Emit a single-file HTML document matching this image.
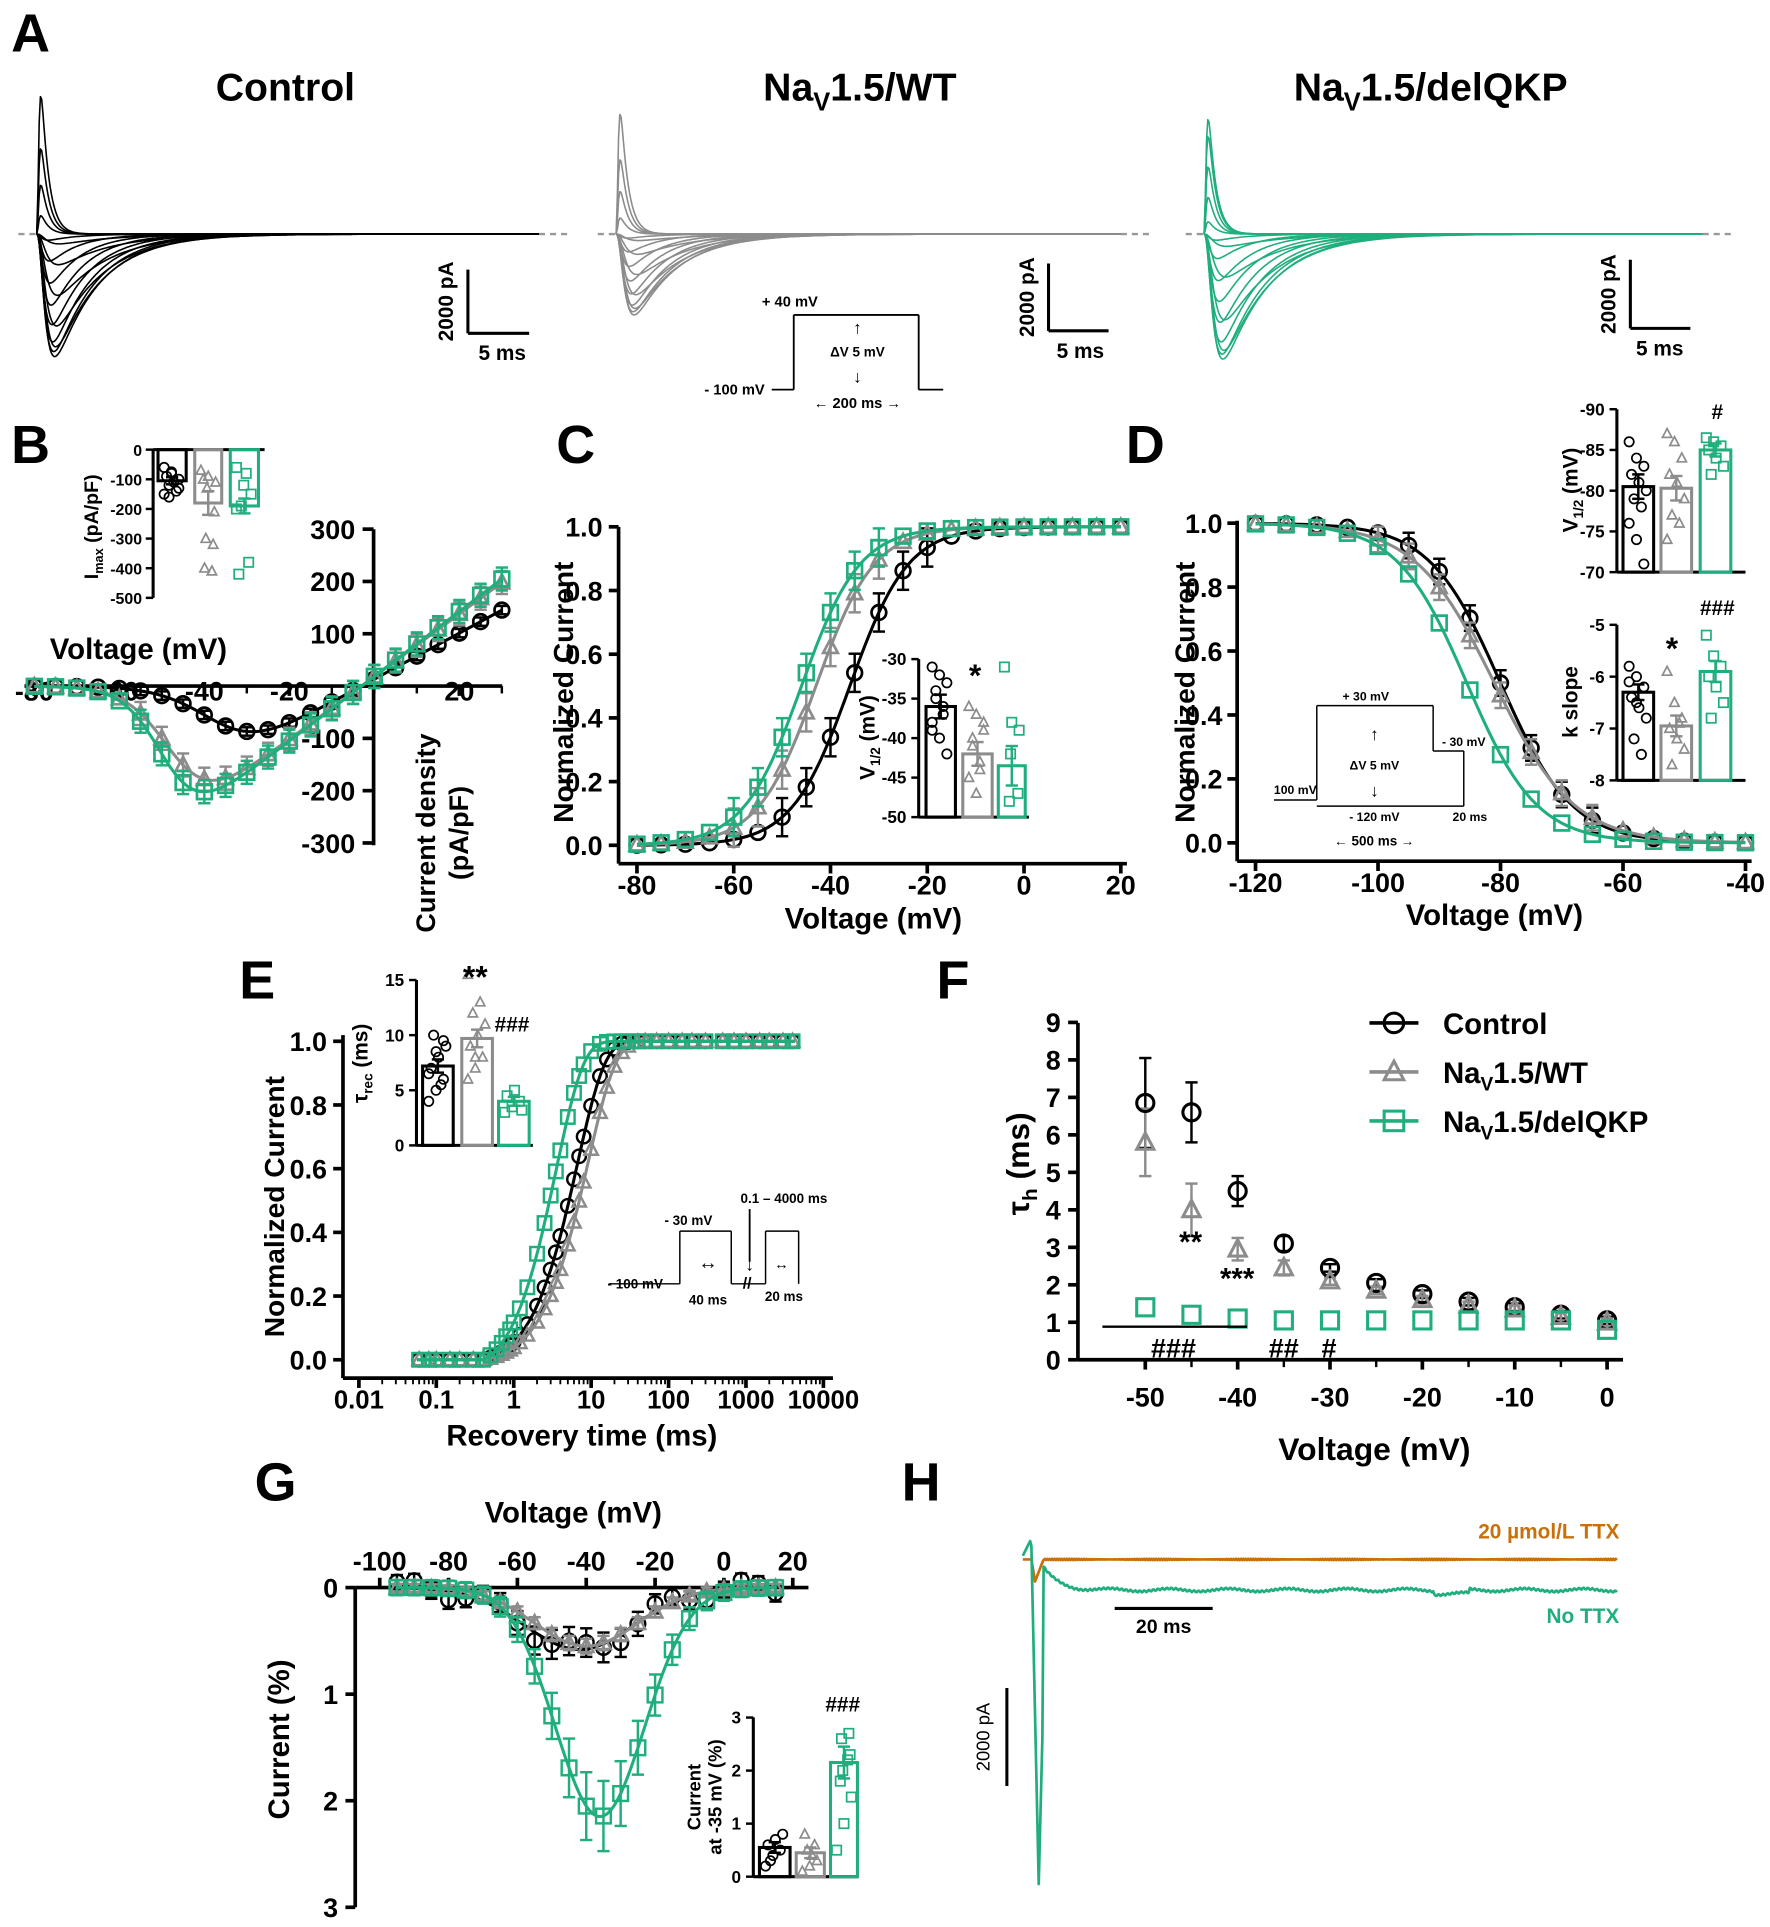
<!DOCTYPE html>
<html><head><meta charset="utf-8"><style>
html,body{margin:0;padding:0;background:#fff;}
svg{display:block;font-family:"Liberation Sans",Arial,sans-serif;}
</style></head><body>
<svg id="s" width="1770" height="1927" viewBox="0 0 1445 1573" xmlns="http://www.w3.org/2000/svg"></svg>
<script>
const S=document.getElementById('s');const NS='http://www.w3.org/2000/svg';
const K='#000',G='#8c8c8c',N='#1fae7c',B='#c8700a';
function el(t,a,txt){const e=document.createElementNS(NS,t);for(const k in a)e.setAttribute(k,a[k]);if(txt!==undefined)e.textContent=txt;S.appendChild(e);return e;}
function L(x1,y1,x2,y2,c,w,da){const a={x1,y1,x2,y2,stroke:c||K,'stroke-width':w||2};if(da)a['stroke-dasharray']=da;return el('line',a);}
function T(x,y,s,sz,anc,wt,rot,col){const a={x,y,'font-size':sz,'text-anchor':anc||'middle','font-weight':wt||'bold',fill:col||K};if(rot)a.transform=`rotate(${rot} ${x} ${y})`;return el('text',a,s);}
function P(pts,c,w){let d='';pts.forEach((p,i)=>d+=(i?'L':'M')+p[0].toFixed(1)+' '+p[1].toFixed(1));return el('path',{d,fill:'none',stroke:c,'stroke-width':w||2,'stroke-linejoin':'round'});}
function M(x,y,type,c,r,w){r=r||6;w=w||2;if(type=='o')return el('circle',{cx:x,cy:y,r,fill:'none',stroke:c,'stroke-width':w});
 if(type=='s')return el('rect',{x:x-r,y:y-r,width:2*r,height:2*r,fill:'none',stroke:c,'stroke-width':w});
 return el('path',{d:`M${x} ${y-r*1.1}L${x+r} ${y+r*0.8}L${x-r} ${y+r*0.8}Z`,fill:'none',stroke:c,'stroke-width':w});}
function EB(x,y1,y2,c,w){L(x,y1,x,y2,c,w||2);L(x-5,y1,x+5,y1,c,w||2);L(x-5,y2,x+5,y2,c,w||2);}
function sub(x,y,sz,base,s,rest,anc,rot){const a={x,y,'font-size':sz,'text-anchor':anc||'middle','font-weight':'bold'};if(rot)a.transform=`rotate(${rot} ${x} ${y})`;const t=el('text',a);t.innerHTML=`${base}<tspan font-size="${sz*0.65}" dy="${sz*0.25}">${s}</tspan><tspan dy="${-sz*0.25}">${rest}</tspan>`;return t;}
function bars(y0,y1,vTop,vBot,data){const yi=v=>y0+(v-vTop)/(vBot-vTop)*(y1-y0);
 data.forEach(([a,b,v,c,m,pts,e])=>{const yb=yi(v),yz=y0;el('rect',{x:a,y:Math.min(yb,yz),width:b-a,height:Math.abs(yb-yz),fill:'none',stroke:c,'stroke-width':2.5});
 if(e)EB((a+b)/2,yi(v-e),yi(v+e),c);pts.forEach((q,i)=>M(a+5+(i*6)%(b-a-9),yi(q),m,c,3.8,1.4));});return yi;}
[['A',25,42],['B',25,378],['C',470,378],['D',935,378],['E',210,815],['F',778,815],['G',225,1225],['H',752,1225]].forEach(a=>T(a[1],a[2],a[0],44,'middle','bold'));
// ---------- Panel A
sub(233,82,32,'Control','','');
sub(702,82,32,'Na','V','1.5/WT');
sub(1168,82,32,'Na','V','1.5/delQKP');
function fam(x0,x1,base,c,amps){L(x0-15,base,x0,base,'#999',2,'5,4');L(x1,base,x1+25,base,'#999',2,'5,4');
 amps.forEach((a,k)=>{const tr=a>0?1.2:1.8+(1-k/amps.length)*4;const td=a>0?6:14+(1-k/amps.length)*30;let mx=0;const f=t=>Math.pow(1-Math.exp(-t/tr),3)*Math.exp(-t/td);for(let t=0;t<300;t+=0.5)mx=Math.max(mx,f(t));
 const pts=[];for(let t=0;t<=x1-x0;t+=1)pts.push([x0+t,base-a*f(t)/mx]);P(pts,c,1.3);});}
const ampsC=[-8,-25,-50,-75,-92,-100,-96,-88,-74,-58,-40,-22,-5,15,40,70,113];
fam(30,440,191,K,ampsC);
fam(503,915,191,G,ampsC.map(a=>a<0?a*0.66:a*0.87));
fam(983,1390,191,N,[-10,-35,-70,-95,-102,-98,-88,-72,-55,-38,-20,-5,10,30,55,80,94]);
function sbar(x,y1,y2,x2,lx){L(x,y1,x,y2,K,2.5);L(x,y2,x2,y2,K,2.5);T(x-12,(y1+y2)/2,'2000 pA',17,'middle','bold',-90);T(lx,y2+22,'5 ms',17);}
sbar(382,220,272,432,410);sbar(856,215,270,905,882);sbar(1331,212,268,1380,1355);
L(630,318,648,318,K,1.5);L(648,318,648,257,K,1.5);L(648,257,750,257,K,1.5);L(750,257,750,318,K,1.5);L(750,318,770,318,K,1.5);
T(622,250,'+ 40 mV',12,'start');T(575,322,'- 100 mV',12,'start');T(700,291,'ΔV 5 mV',11);
T(700,272,'↑',14);T(700,312,'↓',14);T(700,333,'←  200 ms  →',12);
// ---------- Panel B
{const xv=v=>28+(v+80)*3.47,yv=i=>560-i*0.427;
L(20,560,410,560,K,3);L(305,432,305,690,K,3);
[-80,-60,-40,-20,20].forEach(v=>{L(xv(v),560,xv(v),568,K,3);T(xv(v),572,String(v),22,'middle','bold');});
[-60,-50,-40,-30,-20,-10,0,10,20,30].forEach(v=>L(xv(v),560,xv(v),566,K,2));
[300,200,100,0,-100,-200,-300].forEach(i=>{L(296,yv(i),305,yv(i),K,3);if(i)T(290,yv(i)+8,String(i),22,'end');});
T(290,yv(-100)+8,'-100',22,'end');
T(355,680,'Current density',22,'middle','bold',-90);T(382,680,'(pA/pF)',22,'middle','bold',-90);
T(113,538,'Voltage (mV)',24);
const act=(v,h,k)=>1/(1+Math.exp((h-v)/k));
[[K,'o',4.4,-36,6],[G,'t',6.0,-47,5],[N,'s',6.2,-49,4.5]].forEach(([c,m,g,h,k])=>{const pts=[];for(let v=-80;v<=30;v+=1)pts.push([xv(v),yv(g*act(v,h,k)*(v+3))]);P(pts,c,2.5);
 for(let v=-80;v<=30;v+=5){const I=g*act(v,h,k)*(v+3);const e=c==K?8:22;if(v>-60)EB(xv(v),yv(I-e),yv(I+e),c);M(xv(v),yv(I),m,c,6,2.2);}});
const y0=367,y1=488;const yi=i=>y0-i*(y1-y0)/500;L(125,y0,125,y1,K,2.5);L(125,y0,216,y0,K,2.5);
[0,-100,-200,-300,-400,-500].forEach(i=>{L(119,yi(i),125,yi(i),K,2);T(116,yi(i)+5,String(i),13,'end');});
sub(80,430,16,'I','max',' (pA/pF)','middle',-90);
bars(y0,y1,0,-500,[[129,152,-105,K,'o',[-60,-80,-100,-120,-140,-90,-110,-150,-75,-130,-160],12],[159,181,-180,G,'t',[-70,-90,-110,-130,-210,-300,-320,-400,-410,-100],40],[188,211,-190,N,'s',[-60,-120,-150,-190,-380,-420,-80,-200],25]]);}
// ---------- Panel C
{const xv=v=>520+(v+80)*3.95,yv=n=>690-n*260;
L(505,430,505,705,K,3);L(505,705,920,705,K,3);
[0,0.2,0.4,0.6,0.8,1.0].forEach(n=>{L(497,yv(n),505,yv(n),K,3);T(492,yv(n)+8,n.toFixed(1),22,'end');});
[-80,-60,-40,-20,0,20].forEach(v=>{L(xv(v),705,xv(v),713,K,3);T(xv(v),730,String(v),22);});
T(468,565,'Normalized Current',23,'middle','bold',-90);T(713,758,'Voltage (mV)',24);
[[K,'o',-36,6],[G,'t',-43,6],[N,'s',-46,6]].forEach(([c,m,h,k])=>{const pts=[];for(let v=-80;v<=20;v+=1)pts.push([xv(v),yv(1/(1+Math.exp((h-v)/k)))]);P(pts,c,2.5);
 for(let v=-80;v<=20;v+=5){const n=1/(1+Math.exp((h-v)/k));if(n>0.05&&n<0.95)EB(xv(v),yv(n-0.06),yv(n+0.06),c);M(xv(v),yv(n),m,c,6,2.2);}});
L(750,538,750,667,K,2.5);L(750,667,840,667,K,2.5);
const yi=v=>538+(-30-v)*6.45;
[-30,-35,-40,-45,-50].forEach(v=>{L(744,yi(v),750,yi(v),K,2);T(740,yi(v)+5,String(v),14,'end');});
sub(714,602,17,'V','1/2',' (mV)','middle',-90);
bars(667,538,-50,-30,[[756,780,-36,K,'o',[-31,-32,-33,-34,-36,-38,-40,-42,-35,-37,-39],1.5],[786,810,-42,G,'t',[-36,-37,-39,-41,-43,-45,-47,-38,-40,-44],1.5],[815,837,-43.5,N,'s',[-31,-38,-39,-42,-47,-48],2.5]]);
T(796,560,'*',26);}
// ---------- Panel D
{const xv=v=>1025+(v+120)*5,yv=n=>688-n*261;
L(1010,425,1010,703,K,3);L(1010,703,1430,703,K,3);
[0,0.2,0.4,0.6,0.8,1.0].forEach(n=>{L(1002,yv(n),1010,yv(n),K,3);T(998,yv(n)+8,n.toFixed(1),22,'end');});
[-120,-100,-80,-60,-40].forEach(v=>{L(xv(v),703,xv(v),711,K,3);T(xv(v),728,String(v),22);});
T(975,565,'Normalized Current',23,'middle','bold',-90);T(1220,755,'Voltage (mV)',24);
[[K,'o',-80,5.8],[G,'t',-81,6.5],[N,'s',-85.5,5.7]].forEach(([c,m,h,k])=>{const pts=[];for(let v=-120;v<=-40;v+=1)pts.push([xv(v),yv(1/(1+Math.exp((v-h)/k)))]);P(pts,c,2.5);
 for(let v=-120;v<=-40;v+=5){const n=1/(1+Math.exp((v-h)/k));if(n>0.05&&n<0.95&&c!=N)EB(xv(v),yv(n-0.04),yv(n+0.04),c);M(xv(v),yv(n),m,c,6,2.2);}});
L(1040,653,1075,653,K,1.2);L(1075,653,1075,576,K,1.2);L(1075,576,1170,576,K,1.2);L(1170,576,1170,613,K,1.2);L(1170,613,1195,613,K,1.2);L(1195,613,1195,658,K,1.2);L(1075,658,1195,658,K,1.2);
T(1115,572,'+ 30 mV',10);T(1040,648,'100 mV',10,'start');T(1122,604,'↑',14);T(1122,628,'ΔV 5 mV',10);T(1122,650,'↓',14);T(1195,609,'- 30 mV',10);T(1122,670,'- 120 mV',10);T(1200,670,'20 ms',10);T(1122,690,'←      500 ms      →',11);
L(1320,334,1320,467,K,2.5);L(1320,467,1425,467,K,2.5);
[-90,-85,-80,-75,-70].forEach(v=>{const y=334+(v+90)/20*133;L(1314,y,1320,y,K,2);T(1310,y+5,String(v),14,'end');});
sub(1288,400,17,'V','1/2',' (mV)','middle',-90);
bars(467,334,-70,-90,[[1325,1350,-80.5,K,'o',[-86,-84,-83,-82,-81,-80,-79,-78,-76,-74,-71],1.5],[1356,1381,-80.3,G,'t',[-87,-86,-84,-82,-81,-79,-77,-76,-74],1.5],[1388,1413,-85,N,'s',[-86.5,-86,-85.5,-85,-84,-83,-82],0.8]]);
T(1402,342,'#',17);
L(1320,510,1320,637,K,2.5);L(1320,637,1425,637,K,2.5);
[-5,-6,-7,-8].forEach(v=>{const y=510+(-5-v)/3*127;L(1314,y,1320,y,K,2);T(1310,y+5,String(v),14,'end');});
T(1288,573,'k slope',17,'middle','bold',-90);
bars(637,510,-8,-5,[[1325,1350,-6.3,K,'o',[-5.8,-6,-6.2,-6.4,-6.6,-6.8,-7.2,-7.5,-6.1,-6.5],0.15],[1356,1381,-6.95,G,'t',[-5.9,-6.5,-6.8,-7,-7.2,-7.4,-7.7,-6.9],0.2],[1388,1413,-5.9,N,'s',[-5.2,-5.6,-5.8,-6,-6.2,-6.5,-6.8],0.2]]);
T(1365,538,'*',26);T(1402,502,'###',17);}
// ---------- Panel E
{const xl=t=>293+(Math.log10(t)+2)*63.2,yv=n=>1110-n*260;
L(280,845,280,1125,K,3);L(280,1125,680,1125,K,3);
[0,0.2,0.4,0.6,0.8,1.0].forEach(n=>{L(272,yv(n),280,yv(n),K,3);T(267,yv(n)+8,n.toFixed(1),22,'end');});
['0.01','0.1','1','10','100','1000','10000'].forEach((s,i)=>{const x=293+i*63.2;L(x,1125,x,1133,K,3);T(x,1150,s,21);for(let j=2;j<10&&i<6;j++)L(x+Math.log10(j)*63.2,1125,x+Math.log10(j)*63.2,1130,K,1.5);});
T(232,985,'Normalized Current',23,'middle','bold',-90);T(475,1180,'Recovery time (ms)',24);
const ts=[0.06,0.08,0.1,0.15,0.2,0.3,0.4,0.5,0.6,0.7,0.8,0.9,1,1.2,1.5,2,2.5,3,3.5,4,5,6,7,8,10,13,16,20,25,30,40,50,70,100,150,200,300,500,700,1000,1500,2000,3000,4000];
[[K,'o',6.5],[G,'t',9],[N,'s',3.4]].forEach(([c,m,tau])=>{const f=t=>Math.max(0,1-Math.exp(-Math.pow(Math.max(t-0.4,0)/tau,1.2)));const pts=[];for(let l=-1.25;l<=3.65;l+=0.02){const t=Math.pow(10,l);pts.push([xl(t),yv(f(t))]);}P(pts,c,2.5);
 ts.forEach(t=>M(xl(t),yv(f(t)),m,c,5.5,2));});
L(340,800,340,935,K,2.5);L(340,935,435,935,K,2.5);
[0,5,10,15].forEach(v=>{const y=935-v*9;L(334,y,340,y,K,2);T(330,y+5,String(v),14,'end');});
sub(300,868,17,'τ','rec',' (ms)','middle',-90);
bars(935,800,0,15,[[345,370,7.2,K,'o',[4,5,6,7,8,9,10,5.5,6.5,8.5,9.5],0.6],[377,402,9.7,G,'t',[6,7,8,9,10,11,12,13,15.5,8],0.8],[407,432,4.0,N,'s',[3,3.5,4,4.5,5,3.2],0.4]]);
T(388,806,'**',26);T(418,842,'###',17);
L(497,1048,555,1048,K,1.2);L(555,1048,555,1005,K,1.2);L(555,1005,597,1005,K,1.2);L(597,1005,597,1048,K,1.2);L(597,1048,625,1048,K,1.2);L(625,1048,625,1005,K,1.2);L(625,1005,652,1005,K,1.2);L(652,1005,652,1048,K,1.2);
T(562,1000,'- 30 mV',11);T(640,982,'0.1 – 4000 ms',11);L(612,987,612,1030,K,1.5);T(612,1037,'↓',14);T(496,1052,'- 100 mV',11,'start');T(578,1036,'↔',16);T(638,1036,'↔',12);T(578,1065,'40 ms',11);T(640,1062,'20 ms',11);T(610,1052,'//',13);}
// ---------- Panel F
{const xv=v=>935+(v+50)*7.54,yv=n=>1110-n*30.6;
L(880,835,880,1110,K,3);L(880,1110,1325,1110,K,3);
for(let n=0;n<=9;n++){L(872,yv(n),880,yv(n),K,3);T(866,yv(n)+8,String(n),22,'end');}
[-50,-40,-30,-20,-10,0].forEach(v=>{L(xv(v),1110,xv(v),1118,K,3);T(xv(v),1148,String(v),22);});
[-45,-35,-25,-15,-5].forEach(v=>L(xv(v),1110,xv(v),1116,K,2));
sub(840,950,26,'τ','h',' (ms)','middle',-90);T(1122,1192,'Voltage (mV)',26);
const c=[6.85,6.6,4.5,3.1,2.45,2.05,1.75,1.55,1.4,1.2,1.05],w=[5.8,4.0,2.95,2.45,2.1,1.85,1.6,1.45,1.35,1.15,1.0],q=[1.4,1.2,1.1,1.05,1.05,1.05,1.05,1.05,1.05,1.05,0.8];
const ce=[1.2,0.8,0.4,0.2,0.1,0.1,0.1,0.1,0.1,0.1,0.1],we=[0.9,0.7,0.3,0.2,0.1,0.1,0.1,0.1,0.1,0.1,0.1];
for(let i=0;i<11;i++){const x=xv(-50+5*i);EB(x,yv(c[i]-ce[i]),yv(c[i]+ce[i]),K);EB(x,yv(w[i]-we[i]),yv(w[i]+we[i]),G);M(x,yv(c[i]),'o',K,7,2.5);M(x,yv(w[i]),'t',G,7,2.5);M(x,yv(q[i]),'s',N,7,2.5);}
T(972,1022,'**',24);T(1010,1052,'***',24);L(900,1083,1018,1083,K,2);T(958,1108,'###',22);T(1048,1108,'##',22);T(1085,1108,'#',22);
[[K,'o',835],[G,'t',875],[N,'s',915]].forEach(([cl,m,y])=>{L(1118,y,1158,y,cl,3);M(1138,y,m,cl,8,2.5);});
T(1178,844,'Control',24,'start');sub(1178,884,24,'Na','V','1.5/WT','start');sub(1178,924,24,'Na','V','1.5/delQKP','start');}
// ---------- Panel G
{const xv=v=>310+(v+100)*2.81,yv=n=>1296+n*87;
L(290,1296,660,1296,K,3);L(290,1296,290,1557,K,3);
[0,1,2,3].forEach(n=>{L(282,yv(n),290,yv(n),K,3);T(276,yv(n)+8,String(n),22,'end');});
[-100,-80,-60,-40,-20,0,20].forEach(v=>{L(xv(v),1296,xv(v),1288,K,3);T(xv(v),1282,String(v),22);});
T(468,1243,'Voltage (mV)',24);T(236,1420,'Current (%)',24,'middle','bold',-90);
const g=(v,a,m,s)=>a*Math.exp(-Math.pow((v-m)/s,2)/2);
[[K,'o',0.58,-42,16,0.12],[G,'t',0.55,-40,15,0.06],[N,'s',2.15,-36,13,0.12]].forEach(([c,m,a,mu,sd,e])=>{const pts=[];for(let v=-95;v<=15;v+=1)pts.push([xv(v),yv(g(v,a,mu,sd))]);P(pts,c,2.5);
 for(let v=-95;v<=15;v+=5){const y=g(v,a,mu,sd)+(c==K?0.08*Math.sin(v):0);const ee=e*(0.6+y);EB(xv(v),yv(y-ee),yv(y+ee),c);M(xv(v),yv(y),m,c,6,2);}});
L(615,1402,615,1532,K,2.5);L(615,1532,700,1532,K,2.5);
[0,1,2,3].forEach(v=>{const y=1532-v*43.3;L(609,y,615,y,K,2);T(605,y+5,String(v),14,'end');});
T(572,1467,'Current',15,'middle','bold',-90);T(589,1467,'at -35 mV (%)',15,'middle','bold',-90);
bars(1532,1402,0,3,[[620,645,0.55,K,'o',[0.2,0.4,0.5,0.6,0.7,0.8,0.3],0.1],[650,673,0.45,G,'t',[0.1,0.2,0.3,0.5,0.6,0.8,0.4],0.1],[678,700,2.15,N,'s',[0.5,1,1.5,2,2.3,2.6,2.7,1.8,2.2],0.3]]);
T(688,1397,'###',17);}
// ---------- Panel H
{const pb=[];for(let x=835;x<=1320;x+=1){let y=1273;if(x<842)y=1273;else if(x<845)y=1273+(x-842)*6;else if(x<852)y=1291-(x-845)*2.6;else y=1273+Math.sin(x*3.1)*0.5;pb.push([x,y]);}P(pb,B,2.2);
const pg=[];for(let x=835;x<=1320;x+=1){let y;if(x<842)y=1270-(x-835)*2;else if(x<848)y=1262+(x-842)*46;else if(x<852)y=1538-(x-848)*40;else y=1298-18*Math.exp(-(x-852)/12)+Math.sin(x*1.7)*0.8+Math.sin(x*0.13)*1.2;if(x>1170&&x<1200)y+=3;pg.push([x,y]);}P(pg,N,2.2);
T(1322,1256,'20 µmol/L TTX',17,'end','bold',0,B);T(1322,1325,'No TTX',17,'end','bold',0,N);
L(910,1313,990,1313,K,2.5);T(950,1333,'20 ms',16);L(822,1378,822,1458,K,2.5);T(808,1418,'2000 pA',15,'middle','normal',-90);}
</script>
</body></html>
